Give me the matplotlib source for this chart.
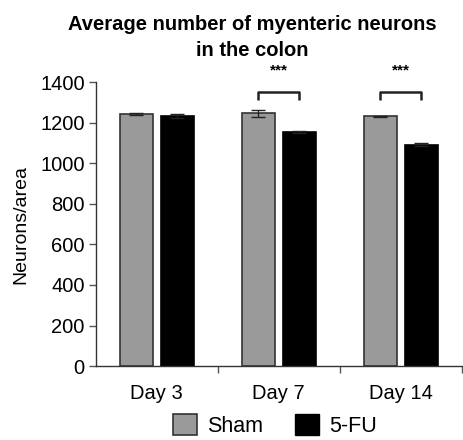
import numpy as np
import matplotlib
matplotlib.use('Agg')
import matplotlib.pyplot as plt
from matplotlib.patches import Patch

plt.rcParams['font.family'] = ['Liberation Sans', 'DejaVu Sans']

# Datos
days = ['Day 3', 'Day 7', 'Day 14']
sham = [1244, 1246, 1233]
sham_err = [5, 17, 3]
fu = [1234, 1155, 1093]
fu_err = [8, 3, 6]
sig_labels = ['', '***', '***']

x = np.arange(len(days))
w = 0.27
off = 0.168

fig = plt.figure(figsize=(4.63, 4.4), dpi=100)
ax = fig.add_axes([0.207, 0.168, 0.79, 0.645])

ax.bar(x - off, sham, w, color='#9a9a9a', edgecolor='#333333', linewidth=1.2,
       yerr=sham_err, capsize=5, error_kw=dict(ecolor='#222222', elinewidth=1, capthick=1))
ax.bar(x + off, fu, w, color='black', edgecolor='black', linewidth=1.2,
       yerr=fu_err, capsize=5, error_kw=dict(ecolor='#222222', elinewidth=1, capthick=1))

# Corchetes de significancia
for i, lab in enumerate(sig_labels):
    if not lab:
        continue
    x0, x1 = i - off, i + off
    ax.plot([x0, x0, x1, x1], [1315, 1353, 1353, 1315], color='#222222', lw=1.8,
            clip_on=False, solid_capstyle='butt')
    ax.text(i, 1425, lab, ha='center', va='bottom', fontsize=11, fontweight='bold',
            clip_on=False)

ax.set_xlim(-0.5, 2.5)
ax.set_ylim(0, 1400)
ax.set_yticks(np.arange(0, 1401, 200))
ax.set_xticks([0.5, 1.5, 2.5])
ax.set_xticklabels([])
ax.set_xticks(x, minor=True)
ax.set_xticklabels(days, minor=True)
ax.tick_params(axis='x', which='minor', length=0, pad=13, labelsize=14.5)
ax.tick_params(axis='x', which='major', length=5, width=1, color='#555555')
ax.tick_params(axis='y', length=5, width=1, labelsize=14.5, color='#555555', pad=3)

for s in ['top', 'right']:
    ax.spines[s].set_visible(False)
for s in ['left', 'bottom']:
    ax.spines[s].set_color('#333333')
    ax.spines[s].set_linewidth(1)

ax.set_ylabel('Neurons/area', fontsize=14, labelpad=8)

fig.suptitle('Average number of myenteric neurons\nin the colon', x=0.545, y=0.965,
             fontsize=14.5, fontweight='bold', linespacing=1.45)

handles = [Patch(facecolor='#9a9a9a', edgecolor='#333333', linewidth=1.2, label='Sham'),
           Patch(facecolor='black', edgecolor='black', label='5-FU')]
fig.legend(handles=handles, loc='center', bbox_to_anchor=(0.594, 0.033), ncol=2,
           frameon=False, fontsize=15.5, handlelength=1.1, handleheight=1.1,
           columnspacing=1.5, handletextpad=0.47, borderpad=0, borderaxespad=0)

fig.savefig('out.png', dpi=100)
